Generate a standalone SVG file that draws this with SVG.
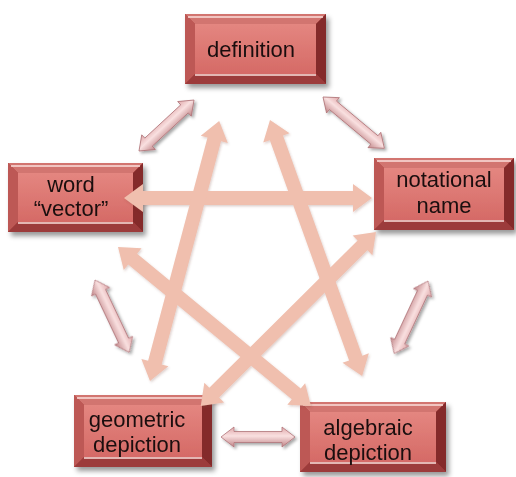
<svg xmlns="http://www.w3.org/2000/svg" width="516" height="477" viewBox="0 0 516 477">
<defs>
  <filter id="sh" x="-20%" y="-20%" width="150%" height="160%">
    <feDropShadow dx="3" dy="4" stdDeviation="2.5" flood-color="#000" flood-opacity="0.4"/>
  </filter>
  <filter id="ash" x="-20%" y="-50%" width="140%" height="200%">
    <feDropShadow dx="2" dy="2" stdDeviation="1.5" flood-color="#000" flood-opacity="0.35"/>
  </filter>
  <filter id="bsh" x="-10%" y="-50%" width="120%" height="200%">
    <feDropShadow dx="1" dy="1.5" stdDeviation="1.2" flood-color="#7a4a3a" flood-opacity="0.25"/>
  </filter>
  <linearGradient id="panel" x1="0" y1="0" x2="0" y2="1">
    <stop offset="0" stop-color="#e48680"/>
    <stop offset="1" stop-color="#d56a66"/>
  </linearGradient>
  <linearGradient id="small" x1="0" y1="0" x2="0" y2="1">
    <stop offset="0" stop-color="#e0a8aa"/>
    <stop offset="0.45" stop-color="#f9e0e0"/>
    <stop offset="1" stop-color="#c08487"/>
  </linearGradient>
</defs>
<style>
  .base { fill: #ac4442; }
  .bt { fill: #d27470; }
  .bl { fill: #bd5854; }
  .br { fill: #84292b; }
  .bb { fill: #9c3a3a; }
  .panel { fill: url(#panel); }
  .hl { stroke: #fbe0dc; stroke-width: 1.6; fill: none; }
  .lbl { font-family: "Liberation Sans", Arial, sans-serif; font-size: 22px; fill: #1a1010; text-anchor: middle; }
  .big { fill: #f0bfae; }
  .sm { fill: url(#small); stroke: #b07478; stroke-width: 0.8; }
</style>

<g id="definition" filter="url(#sh)">
  <rect class="base" x="185" y="14" width="141" height="70"/>
  <polygon class="bt" points="185,14 326,14 316,24 195,24"/>
  <polygon class="bl" points="185,14 195,24 195,74 185,84"/>
  <polygon class="br" points="326,14 326,84 316,74 316,24"/>
  <polygon class="bb" points="185,84 195,74 316,74 326,84"/>
  <rect class="panel" x="195" y="24" width="121" height="50"/>
  <line class="hl" x1="188" y1="17" x2="323" y2="17"/>
  <line class="hl" x1="195" y1="75" x2="316" y2="75"/>
  <text class="lbl" x="251" y="57">definition</text>
</g>

<g id="word" filter="url(#sh)">
  <rect class="base" x="8" y="163" width="135" height="69"/>
  <polygon class="bt" points="8,163 143,163 133,173 18,173"/>
  <polygon class="bl" points="8,163 18,173 18,222 8,232"/>
  <polygon class="br" points="143,163 143,232 133,222 133,173"/>
  <polygon class="bb" points="8,232 18,222 133,222 143,232"/>
  <rect class="panel" x="18" y="173" width="115" height="49"/>
  <line class="hl" x1="11" y1="166" x2="140" y2="166"/>
  <line class="hl" x1="18" y1="223" x2="133" y2="223"/>
  <text class="lbl" x="71" y="192">word</text>
  <text class="lbl" x="71" y="216">“vector”</text>
</g>

<g id="notational" filter="url(#sh)">
  <rect class="base" x="374" y="158" width="140" height="72"/>
  <polygon class="bt" points="374,158 514,158 504,168 384,168"/>
  <polygon class="bl" points="374,158 384,168 384,220 374,230"/>
  <polygon class="br" points="514,158 514,230 504,220 504,168"/>
  <polygon class="bb" points="374,230 384,220 504,220 514,230"/>
  <rect class="panel" x="384" y="168" width="120" height="52"/>
  <line class="hl" x1="377" y1="161" x2="511" y2="161"/>
  <line class="hl" x1="384" y1="221" x2="504" y2="221"/>
  <text class="lbl" x="444" y="187">notational</text>
  <text class="lbl" x="444" y="213">name</text>
</g>

<g id="geometric" filter="url(#sh)">
  <rect class="base" x="74" y="395" width="138" height="72"/>
  <polygon class="bt" points="74,395 212,395 202,405 84,405"/>
  <polygon class="bl" points="74,395 84,405 84,457 74,467"/>
  <polygon class="br" points="212,395 212,467 202,457 202,405"/>
  <polygon class="bb" points="74,467 84,457 202,457 212,467"/>
  <rect class="panel" x="84" y="405" width="118" height="52"/>
  <line class="hl" x1="77" y1="398" x2="209" y2="398"/>
  <line class="hl" x1="84" y1="458" x2="202" y2="458"/>
  <text class="lbl" x="137" y="427">geometric</text>
  <text class="lbl" x="137" y="452">depiction</text>
</g>

<g id="algebraic" filter="url(#sh)">
  <rect class="base" x="300" y="402" width="146" height="70"/>
  <polygon class="bt" points="300,402 446,402 436,412 310,412"/>
  <polygon class="bl" points="300,402 310,412 310,462 300,472"/>
  <polygon class="br" points="446,402 446,472 436,462 436,412"/>
  <polygon class="bb" points="300,472 310,462 436,462 446,472"/>
  <rect class="panel" x="310" y="412" width="126" height="50"/>
  <line class="hl" x1="303" y1="405" x2="443" y2="405"/>
  <line class="hl" x1="310" y1="463" x2="436" y2="463"/>
  <text class="lbl" x="368" y="435">algebraic</text>
  <text class="lbl" x="368" y="460">depiction</text>
</g>

<g id="connectors">
  <g filter="url(#bsh)">
    <path class="big" transform="translate(124,198)" d="M0,0 L19,-14 L19,-7 L229,-7 L229,-14 L248,0 L229,14 L229,7 L19,7 L19,14 Z"/>
    <path class="big" transform="translate(150,381) rotate(-75.1)" d="M0,0 L19,-14 L19,-7 L250,-7 L250,-14 L269,0 L250,14 L250,7 L19,7 L19,14 Z"/>
    <path class="big" transform="translate(270,120) rotate(70.2)" d="M0,0 L19,-14 L19,-7 L253,-7 L253,-14 L272,0 L253,14 L253,7 L19,7 L19,14 Z"/>
    <path class="big" transform="translate(118,247) rotate(39.5)" d="M0,0 L19,-14 L19,-7 L231,-7 L231,-14 L250,0 L231,14 L231,7 L19,7 L19,14 Z"/>
    <path class="big" transform="translate(376,232) rotate(135.2)" d="M0,0 L19,-14 L19,-7 L228,-7 L228,-14 L247,0 L228,14 L228,7 L19,7 L19,14 Z"/>
  </g>
  <g filter="url(#ash)">
    <path class="sm" transform="translate(139,151) rotate(-42.8)" d="M0,0 L13,-10 L13,-5.5 L62,-5.5 L62,-10 L75,0 L62,10 L62,5.5 L13,5.5 L13,10 Z"/>
    <path class="sm" transform="translate(323,97) rotate(39.9)" d="M0,0 L13,-10 L13,-5.5 L67,-5.5 L67,-10 L80,0 L67,10 L67,5.5 L13,5.5 L13,10 Z"/>
    <path class="sm" transform="translate(95,280) rotate(64.7)" d="M0,0 L13,-10 L13,-5.5 L67,-5.5 L67,-10 L80,0 L67,10 L67,5.5 L13,5.5 L13,10 Z"/>
    <path class="sm" transform="translate(428,281) rotate(115)" d="M0,0 L13,-10 L13,-5.5 L67,-5.5 L67,-10 L80,0 L67,10 L67,5.5 L13,5.5 L13,10 Z"/>
    <path class="sm" transform="translate(221,437)" d="M0,0 L13,-10 L13,-5.5 L61,-5.5 L61,-10 L74,0 L61,10 L61,5.5 L13,5.5 L13,10 Z"/>
  </g>
</g>
</svg>
